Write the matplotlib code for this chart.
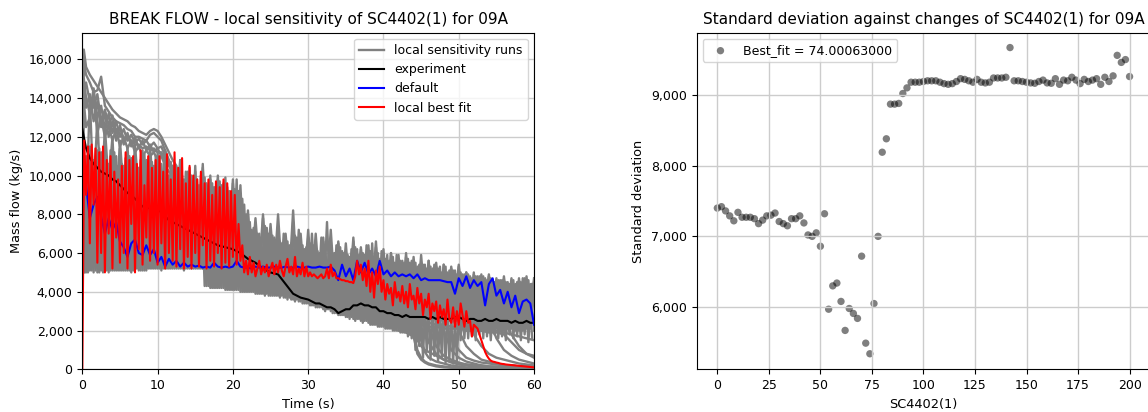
import numpy as np
import matplotlib
matplotlib.use('Agg')
import matplotlib.pyplot as plt
from matplotlib.ticker import FuncFormatter

# break flow data, values in thousands of kg/s
t_grid = np.arange(0, 60.5, 0.5)
t_half = np.arange(0.25, 60, 0.5)

run_o1 = [11.8, 5.0, 11.5, 5.0, 11.3, 5.1, 11.6, 5.0, 11.0, 5.1,
          11.4, 5.1, 11.2, 5.0, 11.0, 5.1, 11.3, 5.1, 11.0, 5.2,
          11.2, 5.1, 10.8, 5.2, 10.5, 5.2, 10.8, 5.1, 10.2, 5.2,
          10.5, 5.2, 10.4, 4.3, 10.0, 4.2, 9.8, 4.2, 9.9, 4.1,
          9.6, 4.1, 9.0, 4.0, 8.0, 4.0, 7.5, 3.9, 7.8, 3.9,
          7.2, 3.8, 7.0, 3.8, 6.8, 3.7, 7.6, 3.6, 6.5, 3.4,
          6.8, 3.3, 6.3, 3.2, 6.6, 3.1, 6.2, 2.9, 6.5, 2.8,
          6.0, 2.6, 6.6, 2.6, 6.2, 2.5, 6.0, 2.3, 6.3, 2.2,
          5.8, 2.1, 6.0, 2.0, 5.7, 1.9, 5.8, 1.8, 5.6, 1.6,
          5.5, 1.9, 5.6, 2.0, 5.3, 2.0, 5.4, 2.1, 5.2, 2.0,
          5.3, 2.1, 5.0, 2.0, 5.0, 2.1, 4.9, 2.0, 4.8, 2.1,
          4.7, 2.0, 4.6, 2.1, 4.5, 2.0, 4.7, 2.0, 4.6, 2.1,
          4.5]
run_o2 = [4.8, 11.0, 5.1, 10.8, 5.0, 11.2, 5.1, 10.6, 5.1, 11.0,
          5.1, 10.5, 5.1, 10.9, 5.2, 10.4, 5.1, 10.8, 5.2, 10.5,
          5.2, 10.6, 5.2, 10.0, 5.2, 10.3, 5.2, 9.8, 5.2, 10.0,
          5.2, 9.5, 5.2, 9.6, 4.2, 9.4, 4.2, 9.5, 4.1, 9.2,
          4.1, 9.8, 4.0, 8.5, 4.0, 7.2, 3.9, 7.0, 3.9, 7.3,
          3.8, 6.8, 3.8, 6.5, 3.7, 6.4, 3.6, 6.8, 3.5, 6.2,
          3.4, 7.0, 3.2, 6.0, 3.1, 7.6, 3.0, 6.0, 2.8, 6.1,
          2.7, 5.8, 2.6, 6.2, 2.5, 5.9, 2.4, 6.5, 2.3, 5.7,
          2.2, 5.9, 2.1, 5.5, 2.0, 5.6, 1.9, 5.5, 1.7, 5.3,
          1.9, 5.4, 2.0, 5.2, 2.0, 5.3, 2.1, 5.0, 2.1, 5.1,
          2.1, 4.9, 2.0, 4.8, 2.1, 4.8, 2.0, 4.7, 2.0, 4.6,
          2.1, 4.6, 2.0, 4.5, 2.1, 4.4, 2.0, 4.7, 2.1, 4.4,
          2.0]
run_o3 = [12.0, 7.0, 10.5, 6.5, 11.0, 7.5, 10.0, 6.8, 10.8, 7.2,
          9.8, 6.5, 10.6, 7.0, 9.5, 6.2, 10.2, 7.0, 9.6, 6.5,
          10.0, 6.8, 9.4, 6.3, 9.8, 6.0, 9.2, 6.5, 9.5, 6.2,
          9.0, 5.8, 8.8, 5.5, 8.5, 5.6, 9.0, 5.2, 8.2, 5.4,
          8.4, 5.2, 7.8, 5.0, 6.8, 4.8, 6.5, 4.8, 6.2, 4.6,
          6.0, 4.5, 6.2, 4.5, 5.8, 4.4, 6.0, 4.2, 5.6, 4.0,
          5.8, 4.0, 5.5, 3.8, 5.6, 3.6, 5.4, 3.5, 5.3, 3.4,
          5.2, 3.3, 5.4, 3.2, 5.0, 3.1, 5.2, 3.0, 5.1, 2.9,
          5.0, 2.8, 4.8, 2.7, 4.9, 2.6, 4.6, 2.5, 4.7, 2.5,
          4.5, 2.8, 4.6, 2.8, 4.4, 2.9, 4.3, 2.9, 4.4, 3.0,
          4.2, 3.0, 4.1, 2.9, 4.2, 2.9, 4.0, 3.0, 3.9, 2.8,
          4.0, 2.9, 3.8, 2.8, 3.9, 2.7, 3.8, 2.8, 3.7, 2.6,
          3.6]
run_o4 = [5.0, 9.5, 6.0, 9.0, 5.5, 9.8, 5.8, 8.5, 6.2, 9.2,
          5.6, 8.8, 6.0, 9.4, 5.5, 8.6, 5.8, 9.0, 5.4, 8.5,
          5.6, 8.8, 5.4, 8.2, 5.5, 8.6, 5.3, 8.0, 5.5, 8.4,
          5.3, 7.8, 5.2, 7.5, 4.6, 7.8, 4.5, 7.2, 4.6, 7.4,
          4.4, 7.0, 4.3, 6.4, 4.2, 6.0, 4.2, 5.8, 4.0, 5.6,
          4.0, 5.4, 3.9, 5.6, 3.8, 5.2, 3.8, 5.3, 3.6, 5.0,
          3.5, 5.2, 3.4, 4.9, 3.3, 5.0, 3.2, 4.8, 3.0, 4.7,
          2.9, 4.8, 2.8, 4.6, 2.7, 4.7, 2.6, 4.5, 2.5, 4.4,
          2.4, 4.5, 2.3, 4.2, 2.2, 4.3, 2.1, 4.0, 2.0, 4.1,
          2.2, 3.8, 2.3, 3.9, 2.4, 3.6, 2.5, 3.7, 2.5, 3.5,
          2.6, 3.6, 2.5, 3.4, 2.6, 3.5, 2.4, 3.3, 2.5, 3.4,
          2.4, 3.2, 2.5, 3.3, 2.3, 3.1, 2.4, 3.2, 2.2, 3.0,
          2.3]
run_s1 = [13.5, 8.0, 14.0, 9.0, 13.0, 8.5, 12.5, 9.5, 12.0, 8.0,
          11.8, 9.0, 11.5, 8.5, 11.6, 9.0, 11.0, 8.2, 11.5, 8.8,
          11.0, 9.0, 11.3, 8.0, 10.5, 7.5, 10.8, 7.0, 10.0, 7.2,
          10.2, 6.5, 10.6, 6.2, 9.8, 6.0, 10.0, 6.4, 9.6, 6.0,
          9.8, 5.5, 9.5, 5.4, 8.2, 5.2, 7.8, 5.2, 8.0, 5.0,
          7.5, 5.0, 8.0, 4.9, 7.0, 4.8, 8.2, 4.6, 7.0, 4.5,
          7.2, 4.4, 7.0, 4.3, 6.8, 4.3, 7.2, 4.2, 6.6, 4.0,
          6.5, 4.0, 6.8, 4.0, 6.3, 3.9, 6.4, 3.8, 6.6, 3.7,
          6.2, 3.6, 6.0, 3.5, 5.9, 3.4, 6.0, 3.3, 5.8, 3.4,
          5.9, 3.5, 5.6, 3.4, 5.5, 3.5, 5.4, 3.4, 5.3, 3.5,
          5.4, 3.4, 5.0, 3.3, 4.9, 3.4, 4.8, 3.3, 4.9, 3.2,
          4.6, 3.2, 4.8, 3.1, 4.7, 3.2, 4.6, 3.0, 4.8, 2.9,
          4.7]

# runs sampled between the half-second points
run_o5 = [11.0, 5.0, 10.5, 5.1, 11.4, 5.0, 10.8, 5.1, 11.2, 5.1,
          10.6, 5.1, 11.0, 5.1, 10.4, 5.1, 11.1, 5.2, 10.7, 5.2,
          10.9, 5.2, 10.3, 5.2, 10.6, 5.2, 10.0, 5.2, 10.4, 5.2,
          9.8, 5.2, 9.9, 4.3, 9.6, 4.2, 9.7, 4.2, 9.4, 4.1,
          9.3, 4.1, 8.8, 4.0, 7.6, 4.0, 7.0, 3.9, 7.4, 3.8,
          6.9, 3.8, 6.6, 3.7, 6.6, 3.6, 6.9, 3.5, 6.4, 3.4,
          6.5, 3.3, 6.1, 3.2, 6.4, 3.1, 6.0, 2.9, 6.3, 2.8,
          5.9, 2.7, 6.3, 2.6, 6.0, 2.5, 6.1, 2.3, 6.0, 2.2,
          5.7, 2.1, 5.8, 2.0, 5.6, 1.9, 5.7, 1.6, 5.5, 1.2,
          5.4, 0.9, 5.3, 0.7, 5.2, 0.6, 5.3, 0.5, 5.1, 0.4,
          5.0, 1.6, 4.9, 1.7, 4.8, 1.8, 4.8, 1.7, 4.7, 1.8,
          4.6, 1.7, 4.5, 1.8, 4.6, 1.7, 4.5, 1.8, 4.6, 1.6]
run_o6 = [5.0, 10.2, 5.1, 11.0, 5.0, 10.4, 5.1, 11.3, 5.1, 10.5,
          5.1, 10.9, 5.1, 10.3, 5.2, 10.8, 5.1, 10.2, 5.2, 11.0,
          5.2, 10.1, 5.2, 10.7, 5.2, 9.9, 5.2, 10.2, 5.2, 9.7,
          5.2, 10.0, 4.3, 9.5, 4.2, 9.3, 4.2, 9.6, 4.1, 9.0,
          4.1, 9.2, 4.0, 8.0, 4.0, 7.3, 3.9, 6.8, 3.8, 7.0,
          3.8, 6.7, 3.7, 7.0, 3.6, 6.5, 3.5, 7.2, 3.4, 6.3,
          3.3, 6.4, 3.2, 6.8, 3.0, 6.2, 2.9, 6.4, 2.8, 6.0,
          2.7, 6.2, 2.5, 5.9, 2.4, 6.4, 2.3, 5.8, 2.2, 6.1,
          2.1, 5.6, 2.0, 5.9, 1.9, 5.5, 1.7, 5.6, 1.0, 5.4,
          0.6, 5.2, 0.5, 5.4, 0.4, 5.0, 0.35, 5.1, 0.3, 4.9,
          1.5, 4.9, 1.6, 4.7, 1.5, 4.8, 1.6, 4.6, 1.5, 4.5,
          1.6, 4.6, 1.5, 4.4, 1.6, 4.5, 1.5, 4.7, 1.4, 4.4]

# upper runs at the start of the transient
top_time = [0, 0.2, 0.5, 1, 1.5, 2, 2.5, 3, 3.5, 4, 4.5, 5, 5.5, 6, 6.5, 7,
            7.5, 8, 8.5, 9, 9.5, 10, 10.5, 11, 11.5, 12, 12.5, 13]
run_t1 = [12.0, 16.5, 15.6, 15.2, 14.9, 14.6, 14.3, 14.0, 13.7, 13.4, 13.2, 13.0, 12.9, 12.8,
          12.6, 12.5, 12.3, 12.2, 12.1, 12.3, 12.4, 12.3, 12.0, 11.6, 11.2, 10.8, 10.5, 9.5]
run_t2 = [11.0, 15.8, 15.2, 14.8, 14.3, 14.4, 15.1, 13.6, 13.3, 13.0, 12.8, 12.7, 12.6, 12.4,
          12.3, 12.0, 12.0, 11.9, 11.8, 12.1, 12.2, 12.0, 11.8, 11.3, 10.8, 10.2, 9.8, 9.0]
run_t3 = [10.5, 14.5, 13.5, 14.2, 12.8, 13.8, 12.5, 13.2, 12.0, 12.8, 11.8, 12.6, 11.6, 12.2,
          11.5, 12.0, 11.4, 11.8, 11.3, 11.6, 11.2, 11.4, 11.0, 11.2, 10.6, 10.4, 10.0, 9.4]
run_t4 = [9.0, 13.8, 12.5, 13.0, 14.0, 12.2, 13.0, 12.0, 12.6, 11.8, 12.4, 11.5, 12.0, 11.4,
          11.8, 11.2, 11.5, 11.0, 11.3, 11.0, 11.2, 10.8, 11.0, 10.5, 10.2, 10.0, 9.6, 9.0]
run_t5 = [10.0, 15.0, 14.0, 13.2, 14.5, 13.0, 13.6, 12.4, 13.2, 12.2, 12.8, 12.0, 12.4, 11.8,
          12.1, 11.7, 11.9, 11.6, 11.8, 11.5, 11.7, 11.4, 11.5, 11.0, 10.6, 10.3, 9.8, 9.2]
run_t6 = [9.5, 14.2, 14.8, 13.8, 13.5, 14.2, 12.8, 13.4, 12.6, 13.1, 12.2, 12.5, 11.9, 12.0,
          11.8, 11.6, 11.6, 11.4, 11.5, 11.3, 11.4, 11.2, 11.2, 10.8, 10.5, 10.2, 9.6, 9.0]

# runs that empty out near the end
tail_time = [42, 43, 44, 44.5, 45, 45.5, 46, 47, 48, 49, 50, 51, 52, 53, 54, 55, 56, 57, 58, 59, 60]
run_d1 = [2.5, 2.3, 2.0, 1.0, 0.6, 0.4, 0.3, 0.2, 0.15, 0.1, 0.1, 0.05, 0.05, 0.05, 0.05, 0.05, 0.05, 0.05, 0.05, 0.05, 0.05]
run_d2 = [3.0, 2.8, 2.6, 2.4, 1.5, 0.9, 0.6, 0.4, 0.3, 0.2, 0.15, 0.1, 0.1, 0.08, 0.07, 0.06, 0.05, 0.05, 0.05, 0.05, 0.05]
run_d3 = [3.2, 3.0, 2.9, 2.8, 2.7, 2.5, 2.2, 1.2, 0.7, 0.5, 0.35, 0.25, 0.2, 0.15, 0.12, 0.1, 0.1, 0.08, 0.08, 0.07, 0.07]
run_d4 = [3.5, 3.4, 3.2, 3.1, 3.0, 3.0, 2.9, 2.8, 2.0, 1.0, 0.6, 0.4, 0.3, 0.2, 0.15, 0.12, 0.1, 0.1, 0.1, 0.1, 0.1]
run_d5 = [3.8, 3.6, 3.5, 3.4, 3.3, 3.2, 3.2, 3.0, 2.9, 2.8, 2.0, 1.2, 0.8, 0.5, 0.4, 0.3, 0.2, 0.2, 0.15, 0.15, 0.12]
run_d6 = [3.3, 3.1, 3.0, 2.9, 2.9, 2.8, 2.8, 2.7, 2.7, 2.6, 2.6, 2.6, 1.8, 1.2, 0.8, 0.6, 0.5, 0.4, 0.3, 0.25, 0.2]
run_d7 = [3.6, 3.4, 3.3, 3.2, 3.2, 3.1, 3.0, 3.0, 2.9, 2.9, 2.8, 2.8, 2.8, 2.7, 2.6, 1.6, 1.0, 0.7, 0.5, 0.4, 0.3]
run_d8 = [3.0, 2.9, 2.8, 2.8, 2.7, 2.7, 2.6, 2.6, 2.6, 2.5, 2.5, 2.5, 2.5, 2.5, 2.5, 2.5, 2.5, 1.8, 1.2, 0.8, 0.6]
run_d9 = [2.8, 2.7, 2.6, 2.5, 2.5, 2.4, 2.4, 2.3, 2.3, 2.2, 2.2, 2.1, 2.1, 2.0, 2.0, 2.0, 1.9, 1.8, 1.7, 1.6, 1.5]
run_d10 = [2.2, 2.0, 1.8, 1.5, 1.2, 1.0, 0.9, 0.7, 0.5, 0.4, 0.3, 0.25, 0.2, 0.2, 0.15, 0.15, 0.1, 0.1, 0.1, 0.1, 0.1]
run_d11 = [2.0, 1.9, 1.7, 0.8, 0.5, 0.35, 0.25, 0.15, 0.1, 0.08, 0.06, 0.05, 0.05, 0.05, 0.05, 0.05, 0.05, 0.05, 0.05, 0.05, 0.05]
run_d12 = [3.4, 3.2, 3.1, 3.0, 2.9, 2.1, 1.4, 0.8, 0.5, 0.35, 0.25, 0.2, 0.15, 0.1, 0.1, 0.08, 0.08, 0.07, 0.07, 0.06, 0.06]
run_d13 = [3.1, 3.0, 2.9, 2.8, 2.8, 2.7, 2.7, 2.6, 2.5, 1.6, 1.0, 0.6, 0.45, 0.35, 0.3, 0.25, 0.2, 0.2, 0.15, 0.15, 0.15]
run_d14 = [2.6, 2.5, 2.4, 2.4, 2.3, 2.3, 2.2, 2.2, 2.1, 2.1, 2.1, 2.0, 2.0, 2.0, 1.9, 1.9, 1.8, 1.4, 1.0, 0.8, 0.7]

experiment = [12.4, 11.4, 10.9, 10.6, 10.4, 10.2, 10.1, 10.0, 9.8, 9.7,
              9.5, 9.3, 9.1, 9.0, 8.8, 8.6, 8.4, 8.35, 8.3, 8.3,
              8.25, 8.1, 7.9, 7.7, 7.6, 7.5, 7.4, 7.3, 7.2, 7.1,
              7.0, 6.9, 6.8, 6.7, 6.6, 6.5, 6.4, 6.35, 6.3, 6.25,
              6.2, 6.1, 6.0, 5.85, 5.7, 5.6, 5.5, 5.35, 5.2, 5.1,
              5.0, 4.95, 4.9, 4.65, 4.4, 4.15, 3.9, 3.8, 3.7, 3.65,
              3.6, 3.5, 3.4, 3.4, 3.3, 3.2, 3.2, 3.1, 2.9, 3.0,
              3.1, 3.1, 3.3, 3.3, 3.4, 3.3, 3.3, 3.2, 3.2, 3.0,
              3.0, 2.9, 2.9, 2.8, 2.8, 2.7, 2.8, 2.7, 2.7, 2.7,
              2.7, 2.7, 2.6, 2.7, 2.6, 2.7, 2.6, 2.6, 2.6, 2.7,
              2.7, 2.6, 2.5, 2.6, 2.6, 2.5, 2.5, 2.6, 2.5, 2.5,
              2.6, 2.5, 2.5, 2.5, 2.4, 2.5, 2.4, 2.4, 2.5, 2.4,
              2.4]
default = [11.5, 9.5, 7.8, 8.5, 8.9, 7.9, 7.0, 7.8, 7.2, 7.6,
           6.6, 6.3, 5.8, 6.5, 6.7, 6.0, 5.9, 6.4, 5.9, 6.2,
           5.5, 5.8, 5.3, 5.7, 5.4, 5.6, 5.3, 5.5, 5.3, 5.4,
           5.3, 5.35, 5.25, 5.3, 5.25, 5.5, 5.3, 5.25, 5.3, 5.25,
           5.3, 5.6, 5.3, 5.25, 5.25, 5.2, 5.3, 5.25, 5.3, 5.25,
           5.25, 5.3, 5.25, 5.25, 5.3, 5.25, 5.25, 5.3, 5.25, 5.25,
           5.3, 5.25, 5.25, 5.3, 5.25, 5.25, 5.3, 5.1, 4.6, 5.4,
           4.8, 5.2, 4.6, 5.6, 5.0, 5.5, 4.9, 5.2, 4.8, 5.6,
           4.9, 5.1, 4.8, 5.0, 4.8, 4.9, 4.8, 4.9, 4.7, 4.9,
           4.6, 4.7, 4.6, 4.6, 4.6, 4.6, 4.55, 4.5, 4.5, 3.9,
           4.7, 4.3, 4.8, 4.2, 4.6, 4.3, 4.5, 3.3, 4.4, 4.7,
           3.8, 4.1, 3.4, 4.0, 3.2, 3.8, 2.9, 3.5, 3.6, 3.4,
           2.3]

best_fit_time = np.arange(0, 60.25, 0.25)
best_fit = [0.0, 11.8, 9.0, 11.5, 6.5, 11.6, 8.5, 11.4, 5.5, 11.2,
            6.0, 11.5, 5.0, 10.8, 7.0, 11.0, 5.2, 10.2, 6.8, 9.8,
            5.5, 10.5, 6.0, 11.2, 5.2, 10.8, 7.5, 11.0, 5.0, 10.6,
            6.2, 11.3, 5.4, 9.5, 6.8, 11.0, 5.6, 10.4, 6.0, 10.8,
            5.4, 11.0, 6.5, 10.2, 5.2, 11.1, 6.0, 9.8, 5.6, 11.2,
            5.3, 10.4, 6.2, 10.9, 5.2, 9.6, 5.8, 10.5, 5.2, 10.0,
            6.0, 9.8, 5.3, 10.2, 6.4, 9.6, 5.2, 9.8, 5.6, 9.0,
            5.3, 9.7, 6.0, 9.4, 5.2, 9.8, 5.5, 9.6, 5.3, 9.2,
            5.8, 9.0, 5.4, 7.5, 5.6, 6.4, 5.0, 5.6, 4.9, 5.8,
            5.0, 5.5, 4.8, 5.2, 5.6, 4.9, 5.3, 5.0, 5.4, 4.8,
            5.2, 5.5, 4.9, 5.4, 5.0, 5.6, 5.1, 4.8, 5.3, 5.7,
            5.0, 5.3, 4.9, 5.8, 4.8, 5.2, 4.9, 5.5, 4.8, 5.3,
            4.8, 5.0, 4.8, 4.9, 4.8, 4.7, 4.8, 4.9, 4.7, 4.8,
            5.2, 4.7, 5.4, 4.8, 5.0, 4.7, 4.7, 4.65, 4.6, 4.6,
            4.55, 4.55, 4.5, 4.5, 4.45, 4.8, 5.6, 4.9, 5.4, 4.6,
            5.2, 4.3, 5.6, 4.0, 5.0, 3.7, 5.1, 4.4, 5.3, 4.0,
            4.6, 3.6, 4.4, 3.9, 4.2, 3.3, 4.5, 3.7, 4.0, 3.5,
            4.3, 3.4, 4.0, 3.2, 4.4, 3.6, 3.8, 3.1, 4.2, 3.4,
            3.9, 2.8, 3.6, 3.2, 3.9, 2.6, 3.4, 3.0, 3.5, 2.4,
            3.3, 2.7, 3.1, 2.3, 3.6, 2.6, 2.4, 3.2, 2.2, 3.0,
            2.3, 3.4, 2.8, 2.2, 3.0, 2.4, 2.5, 1.7, 2.3, 2.2,
            2.1, 1.8, 1.5, 1.2, 0.9, 0.7, 0.55, 0.45, 0.4, 0.38,
            0.35, 0.33, 0.3, 0.28, 0.27, 0.25, 0.24, 0.23, 0.22, 0.21,
            0.2, 0.19, 0.18, 0.17, 0.16, 0.15, 0.14, 0.13, 0.12, 0.11,
            0.1]

# standard deviation scan
sc4402 = np.arange(0, 201, 2)
std_dev = [7.40, 7.42, 7.36, 7.29, 7.22, 7.34, 7.27, 7.27, 7.27, 7.25,
           7.18, 7.23, 7.29, 7.30, 7.33, 7.21, 7.18, 7.15, 7.25, 7.25,
           7.29, 7.19, 7.02, 7.00, 7.05, 6.86, 7.32, 5.97, 6.30, 6.34,
           6.08, 5.67, 5.98, 5.91, 5.84, 6.72, 5.49, 5.34, 6.05, 7.00,
           8.19, 8.38, 8.87, 8.87, 8.88, 9.02, 9.10, 9.18, 9.18, 9.18,
           9.19, 9.20, 9.20, 9.20, 9.18, 9.16, 9.15, 9.16, 9.19, 9.23,
           9.22, 9.20, 9.18, 9.22, 9.18, 9.17, 9.18, 9.24, 9.24, 9.24,
           9.25, 9.67, 9.20, 9.20, 9.19, 9.18, 9.17, 9.165, 9.19, 9.21,
           9.17, 9.165, 9.23, 9.15, 9.21, 9.20, 9.25, 9.21, 9.16, 9.22,
           9.19, 9.21, 9.23, 9.15, 9.25, 9.19, 9.27, 9.56, 9.46, 9.50,
           9.26]

gray_grid_runs = [run_o1, run_o2, run_o3, run_o4, run_s1]
gray_half_runs = [run_o5, run_o6]
gray_top_runs = [run_t1, run_t2, run_t3, run_t4, run_t5, run_t6]
gray_tail_runs = [run_d1, run_d2, run_d3, run_d4, run_d5, run_d6, run_d7,
                  run_d8, run_d9, run_d10, run_d11, run_d12, run_d13, run_d14]

k = 1000.0
comma = FuncFormatter(lambda v, p: '{:,.0f}'.format(v))

fig = plt.figure(figsize=(11.48, 4.12), dpi=100)
ax1 = fig.add_axes([0.0717, 0.1036, 0.3935, 0.817])
ax2 = fig.add_axes([0.6069, 0.1036, 0.3950, 0.817])

lw = 1.5
glw = 1.7
first = True
for run in gray_grid_runs:
    ax1.plot(t_grid, np.array(run) * k, color='gray', lw=glw,
             label='local sensitivity runs' if first else None)
    first = False
for run in gray_half_runs:
    ax1.plot(t_half, np.array(run) * k, color='gray', lw=glw)
for run in gray_top_runs:
    ax1.plot(top_time, np.array(run) * k, color='gray', lw=glw)
for run in gray_tail_runs:
    ax1.plot(tail_time, np.array(run) * k, color='gray', lw=glw)

ax1.plot(t_grid, np.array(experiment) * k, color='k', lw=lw, label='experiment')
ax1.plot(t_grid, np.array(default) * k, color='b', lw=lw, label='default')
ax1.plot(best_fit_time, np.array(best_fit) * k, color='r', lw=lw, label='local best fit')

ax1.set_xlim(0, 60)
ax1.set_ylim(0, 17370)
ax1.set_yticks(np.arange(0, 16001, 2000))
ax1.yaxis.set_major_formatter(comma)
ax1.grid(True, color='#cccccc', lw=1.0)
ax1.set_xlabel('Time (s)', fontsize=9.3)
ax1.set_ylabel('Mass flow (kg/s)', fontsize=9.3)
ax1.set_title('BREAK FLOW - local sensitivity of SC4402(1) for 09A', fontsize=11)
ax1.tick_params(labelsize=9)
ax1.legend(loc='upper right', fontsize=9)

ax2.scatter(sc4402, np.array(std_dev) * k, color='k', alpha=0.5, s=28,
            edgecolors='none', label='Best_fit = 74.00063000')
ax2.set_xlim(-10, 210)
ax2.set_ylim(5120, 9880)
ax2.set_yticks([6000, 7000, 8000, 9000])
ax2.set_xticks(np.arange(0, 201, 25))
ax2.yaxis.set_major_formatter(comma)
ax2.grid(True, color='#cccccc', lw=1.0)
ax2.set_xlabel('SC4402(1)', fontsize=9.3)
ax2.set_ylabel('Standard deviation', fontsize=9.3)
ax2.set_title('Standard deviation against changes of SC4402(1) for 09A', fontsize=11)
ax2.tick_params(labelsize=9)
ax2.legend(loc='upper left', fontsize=9)

fig.savefig('out.png', dpi=100)
